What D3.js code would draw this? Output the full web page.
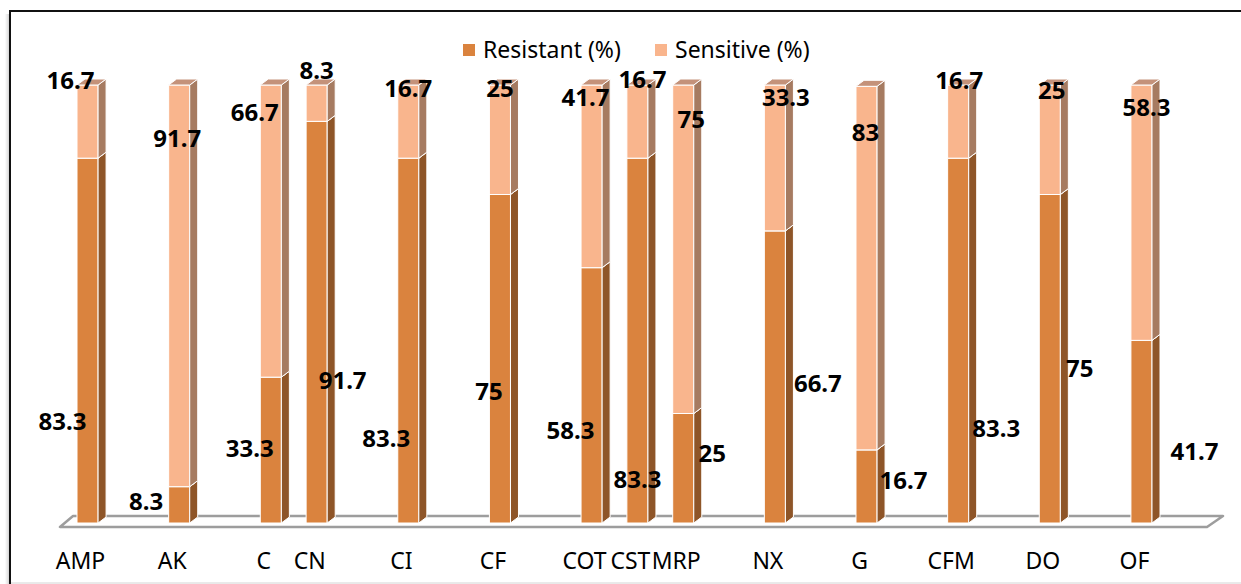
<!DOCTYPE html>
<html>
<head>
<meta charset="utf-8">
<title>Resistant / Sensitive (%)</title>
<style>
  body { margin: 0; background: #fff; }
  svg text { font-family: "Noto Sans", "Open Sans", sans-serif; }
</style>
</head>
<body>
<svg width="1241" height="584"></svg>
<script src="https://d3js.org/d3.v7.min.js"></script>
<script>
// chart data (blank categories are the empty gaps in the original sheet)
var categories = ["AMP", "", "AK", "", "C", "CN", "", "CI", "", "CF", "", "COT", "CST", "MRP", "", "NX", "", "G", "", "CFM", "", "DO", "", "OF"];
var resistant  = [83.3, null, 8.3, null, 33.3, 91.7, null, 83.3, null, 75, null, 58.3, 83.3, 25, null, 66.7, null, 16.7, null, 83.3, null, 75, null, 41.7];
var sensitive  = [16.7, null, 91.7, null, 66.7, 8.3, null, 16.7, null, 25, null, 41.7, 16.7, 75, null, 33.3, null, 83, null, 16.7, null, 25, null, 58.3];
var seriesNames = ["Resistant (%)", "Sensitive (%)"];

// label nudges (px) relative to bar centre / segment middle, one per drawn bar
var resNudgeX = [-25, -33, -21, 26, -22, -11, -21, 0, 29, 43, 37, 38, 30, 53];
var resNudgeY = [89, 5, 7, 67, 106, 41, 44, 147, -6, 15, 3, 96, 18, 28];
var senNudgeX = [-17, -2, -16, 0, 0, 0, -6, 5, 8, 11, -1, 1, 2, 5];
var senNudgeY = [-33, -139, -110, -24, -25, -43, -70, -34, -121, -52, -127, -33, -41, -97];

var svg = d3.select("svg");

var colors = {
  res: { front: "#da833e", side: "#8e5528", top: "#b06a30" },
  sen: { front: "#f9b58d", side: "#a67b61", top: "#c4927a" }
};
var depthX = 8, depthY = -6;

var x = d3.scaleBand()
    .domain(d3.range(categories.length))
    .range([77, 1152])
    .paddingInner(0.54)
    .paddingOuter(0);

var y = d3.scaleLinear()
    .domain([0, 100])
    .range([523, 85]);

// frame + soft shadow on the left
var shadow = svg.append("g");
[0.05, 0.08, 0.12, 0.18].forEach(function(o, i) {
  shadow.append("line")
    .attr("x1", 6 + i).attr("x2", 6 + i)
    .attr("y1", 14).attr("y2", 584)
    .attr("stroke", "#000").attr("stroke-opacity", o).attr("stroke-width", 1);
});
svg.append("line").attr("x1", 10).attr("x2", 1241).attr("y1", 11).attr("y2", 11)
    .attr("stroke", "#111").attr("stroke-width", 2);
svg.append("line").attr("x1", 10).attr("x2", 10).attr("y1", 10).attr("y2", 584)
    .attr("stroke", "#111").attr("stroke-width", 2);
svg.append("line").attr("x1", 11).attr("x2", 1241).attr("y1", 583).attr("y2", 583)
    .attr("stroke", "#d4d4d4").attr("stroke-width", 1);

// floor plate
svg.append("path")
    .attr("d", "M60,527 L1207,527 L1223,516 L73,516 Z")
    .attr("fill", "#fff")
    .attr("stroke", "#9d9d9d")
    .attr("stroke-width", 2.5)
    .attr("stroke-linejoin", "round");

// bars
var idx = d3.range(categories.length).filter(function(i) { return resistant[i] != null; });

function box(g, x0, w, y0, y1, c) {
  // front
  g.append("rect")
    .attr("x", x0).attr("y", y1).attr("width", w).attr("height", y0 - y1)
    .attr("fill", c.front).attr("stroke", "#fff").attr("stroke-width", 1);
  // side
  g.append("path")
    .attr("d", "M" + (x0 + w) + "," + y0 + " L" + (x0 + w + depthX) + "," + (y0 + depthY) +
               " L" + (x0 + w + depthX) + "," + (y1 + depthY) + " L" + (x0 + w) + "," + y1 + " Z")
    .attr("fill", c.side).attr("stroke", "#fff").attr("stroke-width", 1);
  // top
  g.append("path")
    .attr("d", "M" + x0 + "," + y1 + " L" + (x0 + depthX) + "," + (y1 + depthY) +
               " L" + (x0 + w + depthX) + "," + (y1 + depthY) + " L" + (x0 + w) + "," + y1 + " Z")
    .attr("fill", c.top).attr("stroke", "#fff").attr("stroke-width", 1);
}

var bars = svg.append("g");
idx.forEach(function(i) {
  var g = bars.append("g");
  var r = resistant[i], s = sensitive[i];
  box(g, x(i), x.bandwidth(), y(0), y(r), colors.res);
  box(g, x(i), x.bandwidth(), y(r), y(r + s), colors.sen);
});

// value labels
var labels = svg.append("g")
    .attr("font-size", 24)
    .attr("font-weight", "bold")
    .attr("fill", "#000")
    .attr("text-anchor", "middle");
idx.forEach(function(i, k) {
  var cx = x(i) + x.bandwidth() / 2;
  var r = resistant[i], s = sensitive[i];
  labels.append("text")
    .attr("x", cx + resNudgeX[k])
    .attr("y", y(r / 2) + resNudgeY[k])
    .text(r);
  labels.append("text")
    .attr("x", cx + senNudgeX[k])
    .attr("y", y(r + s / 2) + senNudgeY[k])
    .text(s);
});

// category axis labels
svg.append("g")
    .attr("font-size", 23)
    .attr("fill", "#000")
    .attr("text-anchor", "middle")
  .selectAll("text")
  .data(idx)
  .enter().append("text")
    .attr("x", function(i) { return x(i) + x.bandwidth() / 2 - 7; })
    .attr("y", 569)
    .text(function(i) { return categories[i]; });

// legend
var legend = svg.append("g").attr("font-size", 23).attr("fill", "#000");
var legX = [463, 655];
seriesNames.forEach(function(name, k) {
  legend.append("rect")
    .attr("x", legX[k]).attr("y", 44).attr("width", 12).attr("height", 12)
    .attr("fill", k == 0 ? colors.res.front : colors.sen.front);
  legend.append("text")
    .attr("x", legX[k] + 20).attr("y", 58)
    .text(name);
});
</script>
</body>
</html>
